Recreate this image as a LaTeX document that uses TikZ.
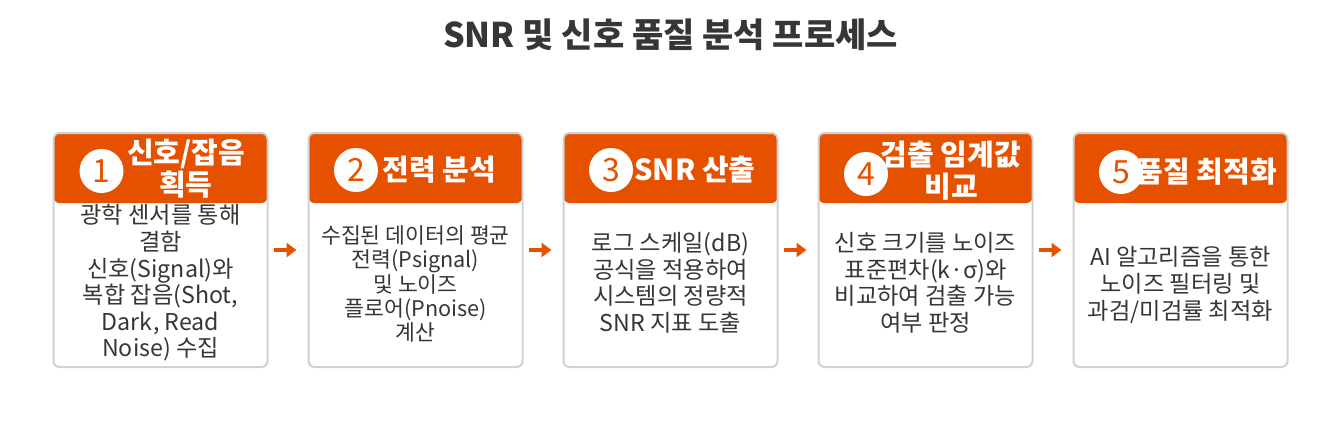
\documentclass[tikz,border=0pt]{standalone}
\usepackage{fontspec}
\setmainfont{Noto Sans CJK KR}
\usepackage{xcolor}
\usepackage{tikz}
\usetikzlibrary{
    positioning,
    calc,
    arrows.meta
}
\definecolor{accent}{HTML}{E65100}
\definecolor{ink}{HTML}{363636}
\definecolor{rim}{HTML}{D2D2D2}
\tikzset{
  card/.style = {
      draw=rim,
      line width=1pt,
      rounded corners=3pt,
      fill=white,
      minimum width=107pt,
      minimum height=117pt,
      inner sep=0pt,
      path picture={
        \fill[accent] (path picture bounding box.north west) rectangle
          ([yshift=-35pt]path picture bounding box.north east);
      }
  },
  badge/.style = {
      circle,
      fill=white,
      minimum size=22pt,
      inner sep=0pt,
      text=accent,
      font=\fontsize{16}{16}\selectfont
  },
  heading/.style = {
      text=white,
      align=center,
      inner sep=0pt,
      font=\fontsize{14.5}{16}\selectfont\bfseries
  },
  body/.style = {
      text=ink,
      align=center,
      inner sep=0pt,
      font=\fontsize{11.6}{13.3}\selectfont
  },
  small body/.style = {
      body,
      font=\fontsize{10.8}{12.2}\selectfont
  },
  title/.style = {
      text=ink,
      font=\fontsize{17}{20}\selectfont\bfseries
  },
  flow/.style = {
      draw=accent,
      line width=2pt,
      -{Triangle[length=5pt,width=7pt]},
      shorten <=2.5pt,
      shorten >=5.5pt
  }
}

\begin{document}
\begin{tikzpicture}[x=0.5pt, y=-0.5pt]
    \useasboundingbox (0,0) rectangle (1341,424);
    % Title
    \node[title] (heading) at (670.5,35) {SNR 및 신호 품질 분석 프로세스};
    % Cards
    \node[card] (card1) at (160.5,250) {};
    \node[card] (card2) at (415.5,250) {};
    \node[card] (card3) at (670.5,250) {};
    \node[card] (card4) at (925.5,250) {};
    \node[card] (card5) at (1180.5,250) {};
    % Headers
    \node[heading] (head1) at (186,169) {신호/잡음\\획득};
    \node[heading] (head2) at (439,170) {전력 분석};
    \node[heading] (head3) at (695,170) {SNR 산출};
    \node[heading] (head4) at (951,171) {검출 임계값\\비교};
    \node[heading] (head5) at (1207,172) {품질 최적화};
    \node[badge] (badge1) at (101.5,171) {1};
    \node[badge] (badge2) at (356,170) {2};
    \node[badge] (badge3) at (611,170) {3};
    \node[badge] (badge4) at (866,174) {4};
    \node[badge] (badge5) at (1121,172) {5};
    % Texts
    \node[body] (note1) at (160.5,283)
        {광학 센서를 통해\\결함\\신호(Signal)와\\복합 잡음(Shot,\\Dark, Read\\Noise) 수집};
    \node[small body] (note2) at (415.5,284)
        {수집된 데이터의 평균\\전력(Psignal)\\및 노이즈\\플로어(Pnoise)\\계산};
    \node[body] (note3) at (670.5,283)
        {로그 스케일(dB)\\공식을 적용하여\\시스템의 정량적\\SNR 지표 도출};
    \node[body] (note4) at (925.5,283)
        {신호 크기를 노이즈\\표준편차(k·σ)와\\비교하여 검출 가능\\여부 판정};
    \node[body] (note5) at (1180.5,285)
        {AI 알고리즘을 통한\\노이즈 필터링 및\\과검/미검률 최적화};
    % Edges
    \draw[flow] (card1) -- (card2);
    \draw[flow] (card2) -- (card3);
    \draw[flow] (card3) -- (card4);
    \draw[flow] (card4) -- (card5);
\end{tikzpicture}
\end{document}
